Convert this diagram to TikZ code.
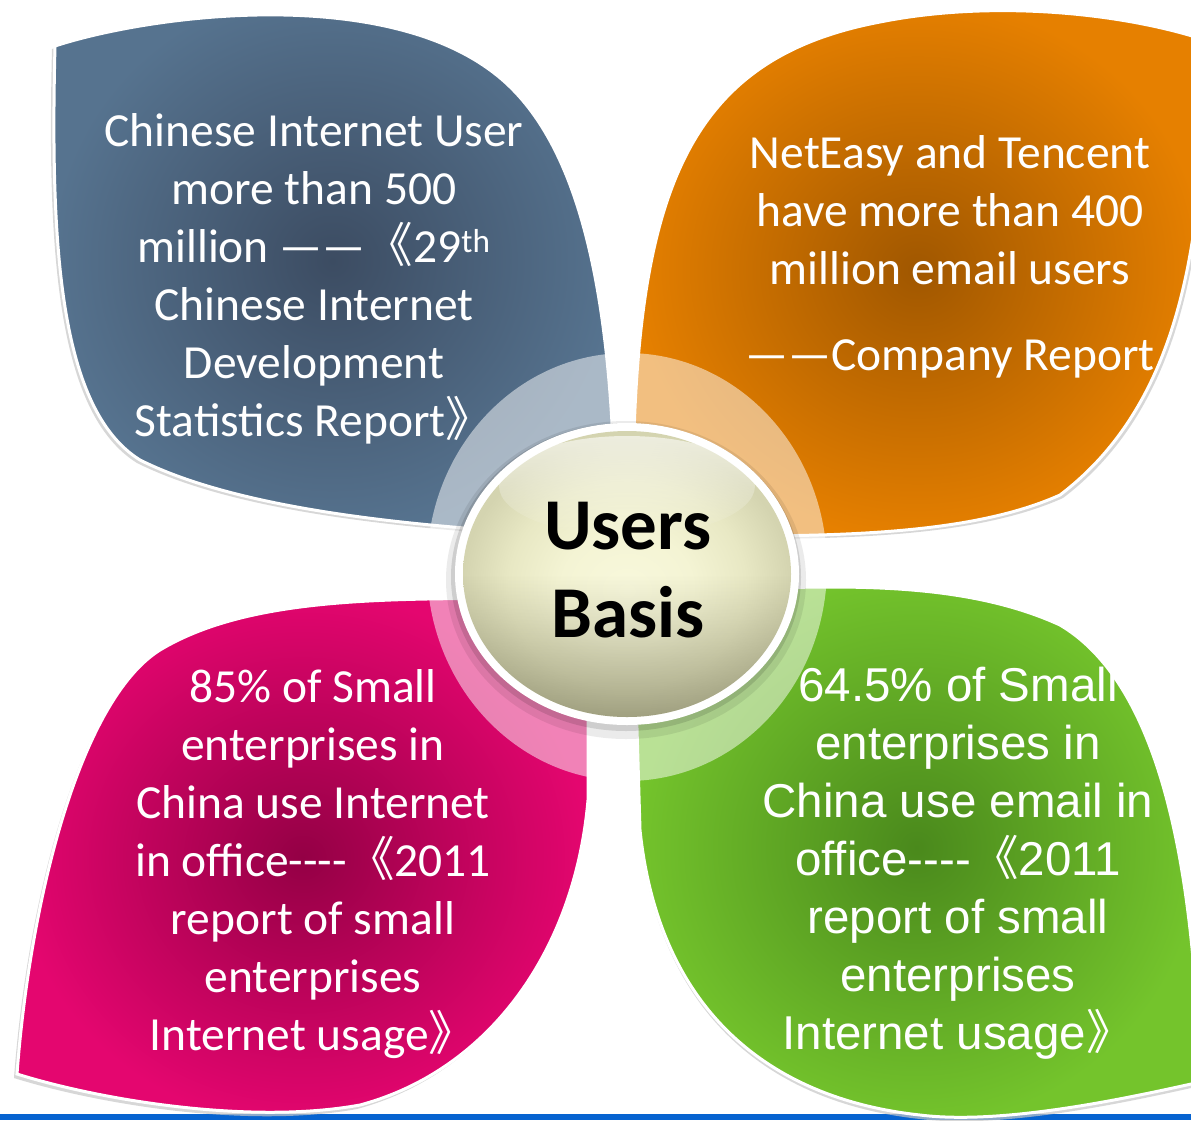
\documentclass[tikz,border=0pt]{standalone}
\usepackage{fontspec}
\setmainfont{Carlito}
\newfontfamily\arialfont{Liberation Sans}
\newfontfamily\cjk{Noto Sans CJK SC}
\usetikzlibrary{fadings}
\definecolor{blueE}{HTML}{56738F}
\definecolor{blueC}{HTML}{3C4C62}
\definecolor{orangeE}{HTML}{E68000}
\definecolor{orangeC}{HTML}{A05700}
\definecolor{pinkE}{HTML}{E4066F}
\definecolor{pinkC}{HTML}{940045}
\definecolor{greenE}{HTML}{74C42C}
\definecolor{greenC}{HTML}{4A891C}
\definecolor{barblue}{RGB}{6,99,208}
\definecolor{ballA}{HTML}{F8F8DC}
\definecolor{ballB}{HTML}{F4F4D4}
\definecolor{ballC}{HTML}{E8E8C4}
\definecolor{ballD}{HTML}{D4D4B0}
\definecolor{ballDark}{HTML}{4E4E34}
\pgfdeclareradialshading{ballshade}{\pgfpoint{0bp}{-3bp}}{color(0bp)=(ballA); color(10bp)=(ballB); color(18bp)=(ballC); color(25bp)=(ballD); color(50bp)=(ballD)}
\tikzfading[name=hlfade, top color=transparent!20, bottom color=transparent!100]
\tikzfading[name=darkfade, top color=transparent!100, bottom color=transparent!0]
\newcommand\petalTL{(615,537) .. controls (450,530) and (250,515) .. (140,460) .. controls (60,410) and (50,250) .. (55,46) .. controls (150,15) and (380,-15) .. (494,73) .. controls (575,135) and (615,280) .. (615,537) -- cycle}
\newcommand\petalTR{(633,535) .. controls (630,200) and (680,60) .. (880,22) .. controls (990,0) and (1120,12) .. (1205,40) .. controls (1205,230) and (1185,400) .. (1060,495) .. controls (960,540) and (800,537) .. (633,535) -- cycle}
\newcommand\petalBL{(588,598) .. controls (420,600) and (260,590) .. (160,650) .. controls (80,700) and (30,900) .. (17,1074) .. controls (100,1100) and (250,1125) .. (360,1105) .. controls (490,1070) and (575,950) .. (588,800) -- cycle}
\newcommand\petalBR{(633,593) .. controls (780,590) and (940,570) .. (1060,625) .. controls (1170,690) and (1195,900) .. (1200,1082) .. controls (1120,1100) and (1000,1125) .. (920,1115) .. controls (780,1100) and (660,1020) .. (640,830) -- cycle}
\newcommand\ballpath{(627,574) ellipse [x radius=164, y radius=143]}
\begin{document}
\begin{tikzpicture}[x=1pt,y=-1pt,
  petalshadow/.style={fill=black!22, opacity=0.7},
  petalline/.style={draw=white, line width=3},
  petaltext/.style={text=white, inner sep=0pt, anchor=base, font=\fontsize{47.5}{58}\selectfont}]
\useasboundingbox (0,0) rectangle (1191,1120);
\clip (0,0) rectangle (1191,1120);
\fill[white] (0,0) rectangle (1191,1120);
\fill[barblue] (0,1114) rectangle (1191,1120);
% shadows
\fill[petalshadow, shift={(-3,3)}] \petalTL;
\fill[petalshadow, shift={(3,3)}] \petalTR;
\fill[petalshadow, shift={(-3,4)}] \petalBL;
\fill[petalshadow, shift={(0,4)}] \petalBR;
% petals
\path[petalline, inner color=blueC, outer color=blueE] \petalTL;
\path[petalline, inner color=orangeC, outer color=orangeE] \petalTR;
\path[petalline, inner color=pinkC, outer color=pinkE] \petalBL;
\path[petalline, inner color=greenC, outer color=greenE] \petalBR;
% translucent ring
\fill[white, opacity=0.5] (627,567) ellipse [x radius=200, y radius=214];
% ball
\fill[black, opacity=0.08] (626,580) ellipse [x radius=180, y radius=159];
\fill[black, opacity=0.12] (626,577) ellipse [x radius=175, y radius=154];
\fill[white] (627,574) ellipse [x radius=172, y radius=151];
\shade[shading=ballshade] \ballpath;
\begin{scope}
  \clip \ballpath;
  \fill[ballDark, opacity=0.6, path fading=darkfade] (440,575) rectangle (820,785);
\end{scope}
\fill[white, opacity=0.75, path fading=hlfade] (627,486) ellipse [x radius=128, y radius=50];
% texts
\node[inner sep=0pt, anchor=base, font=\fontsize{73}{88}\selectfont\bfseries] (center) at (628,549)
  {\begin{tabular}[t]{@{}c@{}}Users\\ Basis\end{tabular}};
\node[petaltext] (tl) at (314,146)
  {\begin{tabular}[t]{@{}c@{}}Chinese Internet User\\ more than 500\\ million ——{\cjk 《}29\textsuperscript{th}\\ Chinese Internet\\ Development\\ Statistics Report{\cjk 》}\end{tabular}};
\node[petaltext] (tr) at (950,168)
  {\begin{tabular}[t]{@{}c@{}}NetEasy and Tencent\\ have more than 400\\ million email users\\[28pt] ——Company Report\end{tabular}};
\node[petaltext] (bl) at (313,702)
  {\begin{tabular}[t]{@{}c@{}}85\% of Small\\ enterprises in\\ China use Internet\\ in office-{}-{}-{}-{\cjk 《}2011\\ report of small\\ enterprises\\ Internet usage{\cjk 》}\end{tabular}};
\node[petaltext, font=\fontsize{47.5}{58}\selectfont\arialfont] (br) at (958,701)
  {\begin{tabular}[t]{@{}c@{}}64.5\% of Small\\ enterprises in\\ China use email in\\ office-{}-{}-{}-{\cjk 《}2011\\ report of small\\ enterprises\\ Internet usage{\cjk 》}\end{tabular}};
\end{tikzpicture}
\end{document}
